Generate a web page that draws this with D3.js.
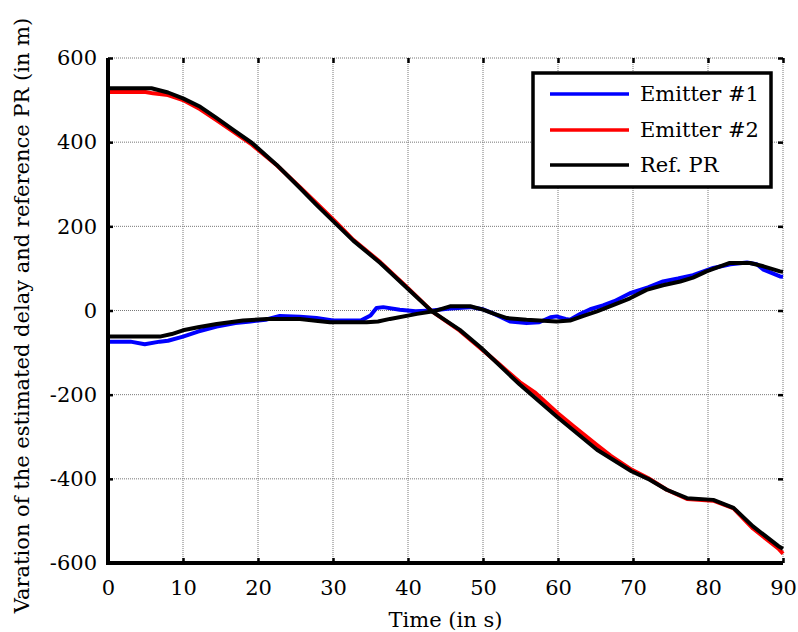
<!DOCTYPE html>
<html><head><meta charset="utf-8">
<script src="https://cdn.jsdelivr.net/npm/d3@7"></script>
<style>body{margin:0;background:#fff}svg{display:block}text{font-family:"DejaVu Serif",serif;fill:#000}</style>
</head><body><svg id="c" width="798" height="632"></svg>
<script>
const xTicks = [0,10,20,30,40,50,60,70,80,90];
const yTicks = [-600,-400,-200,0,200,400,600];
const seriesNames = ["Emitter #1","Emitter #2","Ref. PR"];
const seriesColors = ["#0000ff","#ff0000","#000000"];

const tEm1 = [0,3,4.9,6.9,8,10,12,14.5,17,19,21,22.9,25.6,27.8,30,33.7,35,35.8,36.7,38.9,41,43.2,45.6,48.3,50,51.5,53.6,55.8,57.5,59,59.8,61,61.6,63,64.3,66,67.5,69.6,72,74,76,78,80.7,83,85.2,86.5,87.4,89.6,90];
const vEm1 = [-74,-74,-80,-74,-72,-62,-50,-38,-30,-26,-22,-13,-15,-18,-24,-24,-12,6,8,2,-2,0,5,8,3,-8,-26,-30,-28,-16,-14,-20,-22,-8,3,12,22,41,55,69,76,84,101,110,114,110,97,81,80];

const tRef1 = [0,6.9,8.5,10,12,14.5,18,21.2,25.6,28,29.6,34.5,36,37.6,41.2,43.4,45.6,48.3,50,51.5,53.2,55.8,59.8,61.6,63.5,65.2,67.5,69.6,71.8,74,76.3,78,79.8,82.9,85.6,87.4,89.6,90];
const vRef1 = [-62,-62,-56,-47,-40,-32,-24,-20,-20,-25,-28,-28,-26,-20,-8,-2,10,10,2,-8,-18,-22,-26,-24,-12,-2,14,29,49,60,69,78,93,113,113,105,93,92];

const tEm2 = [0,5,6,8,10,12.3,14.5,16.7,19.2,22.5,25.6,27.8,30.5,32.7,36.3,39.9,43.2,46.9,49.7,52,54.9,57,59.9,62,65.2,67,69.8,72,74.5,77.2,80.7,83.4,86,89.4,90];
const vEm2 = [519,519,516,512,500,478,452,425,394,345,293,255,208,168,115,55,-2,-48,-90,-125,-170,-196,-243,-274,-320,-345,-378,-398,-426,-448,-452,-470,-518,-566,-578];

const tRef2 = [0,5.8,8,10,12.3,14.5,16.7,19.2,22.5,25.6,27.8,30.5,32.7,36.3,39.9,43.2,46.9,49.7,54.9,59.9,65.2,69.8,72,74.5,77.2,80.7,83.4,86,89.4,90];
const vRef2 = [528,528,518,504,484,457,429,398,346,291,251,204,166,113,53,-2,-46,-88,-176,-253,-331,-382,-400,-426,-446,-450,-469,-513,-560,-566];

const svg = d3.select("#c");
const L=108,R=783,T=58,B=563;
const FS = 21;
const x = d3.scaleLinear().domain([0,90]).range([L,R]);
const y = d3.scaleLinear().domain([-600,600]).range([B,T]);
const fmt = d => String(d);

// grid
const g = svg.append("g");
g.selectAll(".gx").data(xTicks).join("line").attr("x1",d=>x(d)).attr("x2",d=>x(d)).attr("y1",T).attr("y2",B)
  .attr("stroke","#777").attr("stroke-width",1).attr("stroke-dasharray","1,1");
g.selectAll(".gy").data(yTicks).join("line").attr("y1",d=>y(d)).attr("y2",d=>y(d)).attr("x1",L).attr("x2",R)
  .attr("stroke","#777").attr("stroke-width",1).attr("stroke-dasharray","1,1");

// top/right ticks
svg.append("g").attr("transform",`translate(0,${T})`).call(d3.axisTop(x).tickValues(xTicks).tickSize(-5).tickFormat(""))
  .call(s=>{s.select(".domain").remove();s.selectAll("line").attr("stroke-width",2.5);});
svg.append("g").attr("transform",`translate(${R},0)`).call(d3.axisRight(y).tickValues(yTicks).tickSize(-5).tickFormat(""))
  .call(s=>{s.select(".domain").remove();s.selectAll("line").attr("stroke-width",2.5);});

// lines
const line = d3.line().x(d=>x(d[0])).y(d=>y(d[1]));
const zip=(a,b)=>a.map((v,i)=>[v,b[i]]);
const curves = [[zip(tEm1,vEm1),seriesColors[0]],[zip(tEm2,vEm2),seriesColors[1]],[zip(tRef1,vRef1),seriesColors[2]],[zip(tRef2,vRef2),seriesColors[2]]];
svg.append("g").selectAll("path").data(curves).join("path").attr("d",d=>line(d[0])).attr("fill","none")
  .attr("stroke",d=>d[1]).attr("stroke-width",4).attr("stroke-linejoin","round");

// bottom/left axes
const ax = svg.append("g").attr("transform",`translate(0,${B})`).call(d3.axisBottom(x).tickValues(xTicks).tickSize(-5).tickPadding(17).tickFormat(fmt));
ax.select(".domain").attr("stroke-width",4).attr("d",`M${L-2},0H${R}`);
ax.selectAll("line").attr("stroke-width",2.5);
ax.selectAll("text").attr("font-size",FS).attr("font-family","DejaVu Serif");
const ay = svg.append("g").attr("transform",`translate(${L},0)`).call(d3.axisLeft(y).tickValues(yTicks).tickSize(-5).tickPadding(11).tickFormat(fmt));
ay.select(".domain").attr("stroke-width",4).attr("d",`M0,${T}V${B+2}`);
ay.selectAll("line").attr("stroke-width",2.5);
ay.selectAll("text").attr("font-size",FS).attr("font-family","DejaVu Serif");

// axis titles
svg.append("text").attr("x",(L+R)/2).attr("y",627).attr("text-anchor","middle").attr("font-size",FS).text("Time (in s)");
svg.append("text").attr("transform",`translate(29,${(T+B)/2+5}) rotate(-90)`).attr("text-anchor","middle").attr("font-size",FS)
  .text("Varation of the estimated delay and reference PR (in m)");

// legend
const lg = svg.append("g");
lg.append("rect").attr("x",533).attr("y",73).attr("width",238).attr("height",114).attr("fill","#fff").attr("stroke","#000").attr("stroke-width",3.5);
const rowsY = [94,130,165];
seriesNames.forEach((n,i)=>{
  lg.append("line").attr("x1",550).attr("x2",629).attr("y1",rowsY[i]).attr("y2",rowsY[i]).attr("stroke",seriesColors[i]).attr("stroke-width",3.5);
  lg.append("text").attr("x",640).attr("y",rowsY[i]+7).attr("font-size",FS).text(n);
});
</script></body></html>
